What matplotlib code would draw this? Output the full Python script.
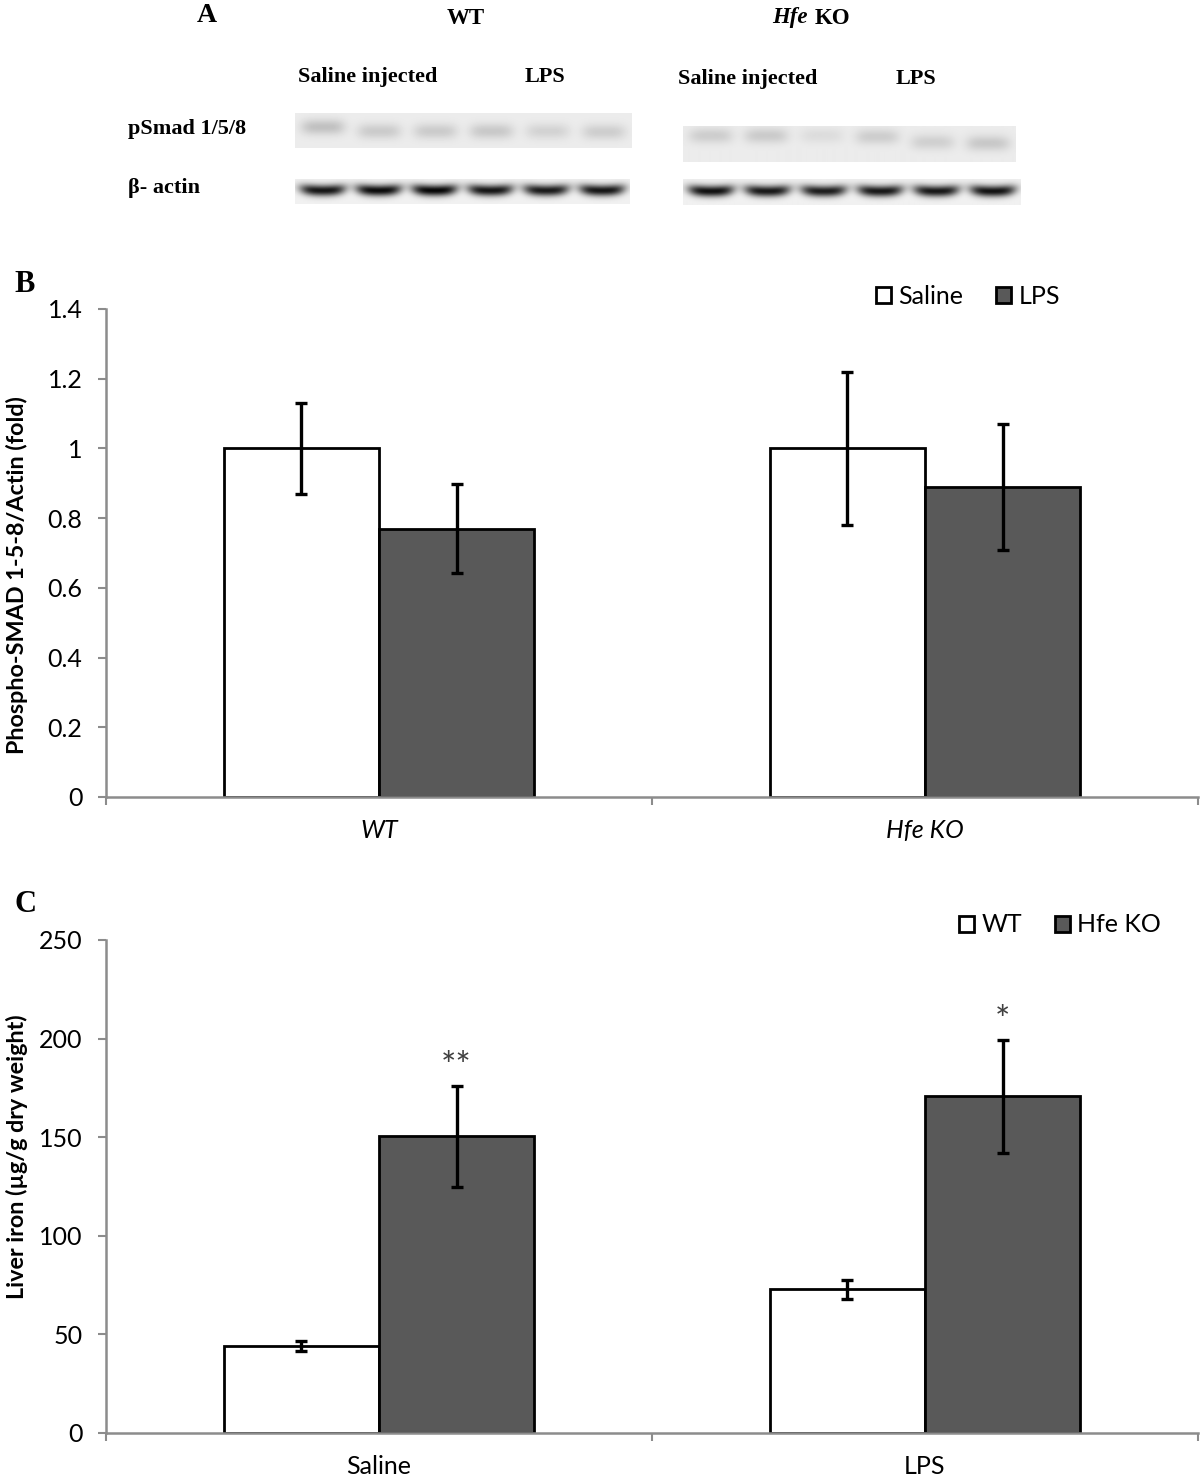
import matplotlib
matplotlib.use('Agg')
import matplotlib.pyplot as plt
import numpy as np
from matplotlib.patches import Patch

plt.rcParams['font.family'] = ['Lato', 'DejaVu Sans']

# panel A: band darkness per lane (3 saline + 3 LPS)
wt_psmad_band = [0.17, 0.13, 0.13, 0.14, 0.10, 0.12]
wt_actin_band = [0.86, 0.90, 0.92, 0.86, 0.84, 0.86]
ko_psmad_band = [0.12, 0.13, 0.06, 0.12, 0.11, 0.14]
ko_actin_band = [0.88, 0.85, 0.83, 0.85, 0.85, 0.87]

# panel B: phospho-SMAD 1/5/8 / actin (fold)
smad_groups = ['WT', 'Hfe KO']
smad_saline = [1.00, 1.00]
smad_saline_err = [0.13, 0.22]
smad_lps = [0.77, 0.89]
smad_lps_err = [0.127, 0.18]

# panel C: liver iron (ug/g dry weight)
iron_groups = ['Saline', 'LPS']
iron_wt = [44.1, 72.8]
iron_wt_err = [2.7, 5.0]
iron_ko = [150.5, 170.8]
iron_ko_err = [25.7, 28.7]
iron_ko_marks = ['**', '*']

W, H = 1200, 1478
fig = plt.figure(figsize=(W / 100, H / 100), dpi=100)
serif = 'Liberation Serif'
GREY = '#8c8c8c'
DARK = '#595959'


def px_rect(x0, y0, x1, y1):
    return [x0 / W, 1 - y1 / H, (x1 - x0) / W, (y1 - y0) / H]


def draw_blot(box, strength, rows, bg, sy, wx, curve=0.0):
    ax = fig.add_axes(px_rect(*box))
    x0, y0, x1, y1 = box
    w, h = x1 - x0, y1 - y0
    yy, xx = np.mgrid[0:h, 0:w] + 0.5
    img = np.full((h, w), bg, dtype=float)
    n = len(strength)
    for i, (s, r) in enumerate(zip(strength, rows)):
        c = (i + 0.5) / n * w
        u = (xx - c) / wx
        yc = r * h - curve * u ** 2
        img -= s * np.exp(-u ** 4) * np.exp(-0.5 * ((yy - yc) / sy) ** 2)
    ax.imshow(np.clip(img, 0, 1), cmap='gray', vmin=0, vmax=1, aspect='auto',
              interpolation='bilinear', extent=(0, w, h, 0))
    ax.set_axis_off()


def ftext(x, y, s, **kw):
    fig.text(x / W, 1 - y / H, s, **kw)


# ---- panel A ----
hdr = dict(family=serif, weight='bold', ha='center', va='center')
ftext(207, 15, 'A', fontsize=20, **hdr)
ftext(466, 18, 'WT', fontsize=16.5, **hdr)
ftext(808, 18, 'Hfe', fontsize=16.5, family=serif, weight='bold', style='italic', ha='right', va='center')
ftext(815, 18, 'KO', fontsize=16.5, family=serif, weight='bold', ha='left', va='center')
ftext(368, 77, 'Saline injected', fontsize=16, **hdr)
ftext(545, 77, 'LPS', fontsize=16, **hdr)
ftext(748, 79, 'Saline injected', fontsize=16, **hdr)
ftext(916, 79, 'LPS', fontsize=16, **hdr)
ftext(128, 129, 'pSmad 1/5/8', fontsize=16, family=serif, weight='bold', ha='left', va='center')
ftext(128, 188, 'β- actin', fontsize=16, family=serif, weight='bold', ha='left', va='center')

draw_blot((295, 113, 632, 148), wt_psmad_band, [0.40, 0.52, 0.52, 0.52, 0.52, 0.54], 0.925, 5.5, 22)
draw_blot((295, 179, 630, 204), wt_actin_band, [0.46] * 6, 0.945, 4.0, 23, curve=2.0)
draw_blot((683, 126, 1015, 162), ko_psmad_band, [0.27, 0.27, 0.27, 0.30, 0.45, 0.48], 0.925, 5.5, 22)
draw_blot((683, 179, 1020, 205), ko_actin_band, [0.47] * 6, 0.945, 4.0, 23, curve=2.0)


# ---- bar panels ----
def bar_panel(box, groups, a, a_err, b, b_err, ymax, ystep, italic, names, leg_xy, label, label_y):
    ax = fig.add_axes(px_rect(*box))
    x = np.arange(len(groups)) + 0.5
    bw = 0.284
    ek = dict(ecolor='black', elinewidth=2.4, capsize=4.5, capthick=2.4)
    ax.bar(x - bw / 2, a, bw, yerr=a_err, color='white', edgecolor='black',
           linewidth=2, error_kw=ek, zorder=3)
    ax.bar(x + bw / 2, b, bw, yerr=b_err, color=DARK, edgecolor='black',
           linewidth=2, error_kw=ek, zorder=3)
    ax.set_xlim(0, len(groups))
    ax.set_ylim(0, ymax)
    for s in ['top', 'right']:
        ax.spines[s].set_visible(False)
    for s in ['left', 'bottom']:
        ax.spines[s].set_color(GREY)
        ax.spines[s].set_linewidth(1.8)
        ax.spines[s].set_zorder(4)
    yt = np.arange(0, ymax + ystep / 2, ystep)
    ax.set_yticks(yt)
    ax.set_yticklabels([f'{v:g}' for v in yt])
    ax.set_xticks(np.arange(len(groups) + 1))
    ax.set_xticklabels([])
    ax.set_xticks(x, minor=True)
    ax.set_xticklabels(groups, minor=True, style='italic' if italic else 'normal')
    ax.tick_params(axis='y', length=6, width=1.5, color=GREY, pad=11, labelsize=18)
    ax.tick_params(axis='x', which='major', length=6, width=1.5, color=GREY)
    ax.tick_params(axis='x', which='minor', length=0, pad=16, labelsize=18)
    ax.set_ylabel(label, fontsize=16.8, weight='bold')
    ax.yaxis.set_label_coords(-0.071, label_y)
    handles = [Patch(facecolor='white', edgecolor='black', linewidth=2),
               Patch(facecolor=DARK, edgecolor='black', linewidth=2)]
    ax.legend(handles, names, loc='center', bbox_to_anchor=(leg_xy[0] / W, 1 - leg_xy[1] / H),
              bbox_transform=fig.transFigure, ncol=2, frameon=False, fontsize=18,
              handlelength=0.6, handleheight=0.6, handletextpad=0.3, columnspacing=1.3,
              borderpad=0, borderaxespad=0)
    return ax, x, bw


axb, xb, bwb = bar_panel((106, 309, 1198, 797), smad_groups, smad_saline, smad_saline_err,
                         smad_lps, smad_lps_err, 1.4, 0.2, True, ['Saline', 'LPS'], (968, 296),
                         'Phospho-SMAD 1-5-8/Actin (fold)', 0.455)
ftext(25, 284, 'B', fontsize=22, family=serif, weight='bold', ha='center', va='center')

axc, xc, bwc = bar_panel((106, 940, 1198, 1433), iron_groups, iron_wt, iron_wt_err,
                         iron_ko, iron_ko_err, 250, 50, False, ['WT', 'Hfe KO'], (1060, 925),
                         'Liver iron (µg/g dry weight)', 0.56)
ftext(25, 904, 'C', fontsize=22, family=serif, weight='bold', ha='center', va='center')

for i, m in enumerate(iron_ko_marks):
    axc.annotate(m, (xc[i] + bwc / 2, iron_ko[i] + iron_ko_err[i]), xytext=(0, 1),
                 textcoords='offset points', ha='center', va='bottom', fontsize=26, color='#404040')

fig.savefig('out.png', dpi=100, facecolor='white')
